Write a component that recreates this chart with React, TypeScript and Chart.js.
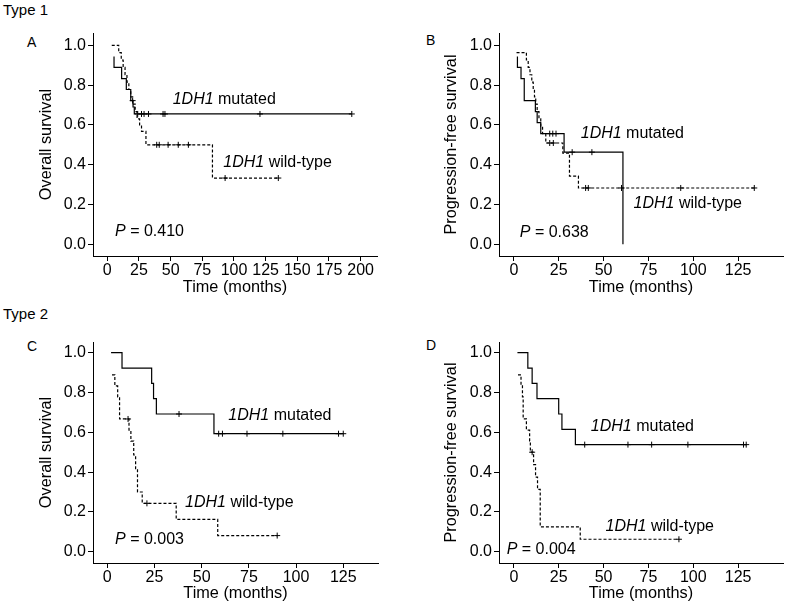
import React, { useEffect, useRef } from "react";
import { Chart, registerables } from "chart.js";

Chart.register(...registerables);

const FONT = '"Liberation Sans", Arial, Helvetica, sans-serif';
const TICK_SIZE = 16;
const TITLE_SIZE = 16.3;
const ANNOT_SIZE = 16;

// ---- shared axis ticks ----
const Y_TICKS = [0, 0.2, 0.4, 0.6, 0.8, 1.0];
const Y_TICK_LABELS = ["0.0", "0.2", "0.4", "0.6", "0.8", "1.0"];
const X_TICKS_A = [0, 25, 50, 75, 100, 125, 150, 175, 200];
const X_TICK_LABELS_A = ["0", "25", "50", "75", "100", "125", "150", "175", "200"];
const X_TICKS_BCD = [0, 25, 50, 75, 100, 125];
const X_TICK_LABELS_BCD = ["0", "25", "50", "75", "100", "125"];

const GENE = "1DH1";
const GROUP_MUT = " mutated";
const GROUP_WT = " wild-type";
const X_TITLE = "Time (months)";
const Y_TITLE_OS = "Overall survival";
const Y_TITLE_PFS = "Progression-free survival";
const P_VALUES = ["0.410", "0.638", "0.003", "0.004"];

// ---- Panel A: Type 1, overall survival ----
const A_MUT_TIMES = [5.3, 5.3, 11.3, 15, 18.5, 20.3, 21.3];
const A_MUT_SURV = [0.944, 0.889, 0.833, 0.778, 0.722, 0.69, 0.655];
const A_MUT_CENSOR = [20, 24, 27, 29, 32.5, 44, 45.5, 120.5, 193];
const A_WT_TIMES = [3.5, 9, 11, 12.5, 14, 15.5, 17, 18.5, 20, 22, 23.5, 25.5, 27, 30.5, 83];
const A_WT_SURV = [1.0, 0.963, 0.926, 0.889, 0.852, 0.815, 0.778, 0.741, 0.704, 0.667, 0.63, 0.6, 0.567, 0.5, 0.333];
const A_WT_CENSOR = [39, 41, 48, 56, 64, 93, 135];

// ---- Panel B: Type 1, progression-free survival ----
const B_MUT_TIMES = [2, 2, 4, 5.8, 12, 13, 15, 28, 60.8];
const B_MUT_SURV = [0.944, 0.889, 0.833, 0.722, 0.667, 0.611, 0.556, 0.463, 0];
const B_MUT_CENSOR = [20, 21.7, 23.5, 32.5, 43.5];
const B_WT_TIMES = [1.5, 7, 8, 9, 10, 10.8, 11.5, 12.2, 13, 14, 15, 16, 17.8, 27.3, 31, 36];
const B_WT_SURV = [0.963, 0.926, 0.889, 0.852, 0.815, 0.778, 0.741, 0.704, 0.667, 0.63, 0.593, 0.556, 0.509, 0.458, 0.343, 0.283];
const B_WT_CENSOR = [20, 22, 40, 41.5, 60, 93, 134];

// ---- Panel C: Type 2, overall survival ----
const C_MUT_TIMES = [2, 7.8, 23.5, 24.5, 26, 56.5];
const C_MUT_SURV = [1.0, 0.923, 0.846, 0.769, 0.692, 0.593];
const C_MUT_CENSOR = [38, 59, 61, 74, 93, 122.5, 125];
const C_WT_TIMES = [2.5, 4, 5.5, 6.5, 11.5, 12.5, 14, 15, 16, 18.5, 36.5, 58.5];
const C_WT_SURV = [0.889, 0.833, 0.778, 0.667, 0.611, 0.556, 0.486, 0.417, 0.3, 0.243, 0.162, 0.081];
const C_WT_CENSOR = [11, 21, 90];

// ---- Panel D: Type 2, progression-free survival ----
const D_MUT_TIMES = [2, 7.8, 10.2, 12.9, 25, 26.8, 34.3];
const D_MUT_SURV = [1.0, 0.923, 0.846, 0.769, 0.692, 0.615, 0.538];
const D_MUT_CENSOR = [39.5, 63.6, 76.8, 97, 128, 129.5];
const D_WT_TIMES = [2.3, 4, 4.8, 5.2, 7, 8.8, 9.2, 11, 12.1, 13.2, 14.7, 37];
const D_WT_SURV = [0.889, 0.833, 0.778, 0.667, 0.611, 0.556, 0.5, 0.438, 0.375, 0.313, 0.125, 0.0625];
const D_WT_CENSOR = [10.2, 92];

type Pt = { x: number; y: number; c: boolean };

function kmPoints(times: number[], surv: number[], censor: number[]): Pt[] {
  const pts: Pt[] = times.map((t, i) => ({ x: t, y: surv[i], c: false }));
  censor.forEach((t) => {
    let s = surv[0];
    for (let i = 0; i < times.length; i++) if (times[i] <= t) s = surv[i];
    pts.push({ x: t, y: s, c: true });
  });
  pts.sort((a, b) => a.x - b.x);
  return pts;
}

type Label = { x: number; y: number; parts: { t: string; i: boolean }[] };

type PanelCfg = {
  rect: [number, number, number, number];
  area: [number, number, number, number];
  xMin: number;
  xMax: number;
  yMin: number;
  yMax: number;
  xTicks: number[];
  xTickLabels: string[];
  yTitle: string;
  yTitleX: number;
  xTitleY: number;
  mut: Pt[];
  wt: Pt[];
  labels: Label[];
};

const mkLabels = (m: [number, number], w: [number, number], p: [number, number], pv: string): Label[] => [
  { x: m[0], y: m[1], parts: [{ t: GENE, i: true }, { t: GROUP_MUT, i: false }] },
  { x: w[0], y: w[1], parts: [{ t: GENE, i: true }, { t: GROUP_WT, i: false }] },
  { x: p[0], y: p[1], parts: [{ t: "P", i: true }, { t: " = " + pv, i: false }] },
];

const PANELS: PanelCfg[] = [
  {
    rect: [0, 20, 393, 285],
    area: [93, 33, 377, 256],
    xMin: -11.3, xMax: 212.9, yMin: -0.0588, yMax: 1.0618,
    xTicks: X_TICKS_A, xTickLabels: X_TICK_LABELS_A,
    yTitle: Y_TITLE_OS, yTitleX: 46.7, xTitleY: 288,
    mut: kmPoints(A_MUT_TIMES, A_MUT_SURV, A_MUT_CENSOR),
    wt: kmPoints(A_WT_TIMES, A_WT_SURV, A_WT_CENSOR),
    labels: mkLabels([51.6, 0.729], [91.6, 0.41], [6.1, 0.063], P_VALUES[0]),
  },
  {
    rect: [393, 20, 394, 285],
    area: [499, 33, 786, 256],
    xMin: -8.27, xMax: 150, yMin: -0.0588, yMax: 1.0618,
    xTicks: X_TICKS_BCD, xTickLabels: X_TICK_LABELS_BCD,
    yTitle: Y_TITLE_PFS, yTitleX: 451.7, xTitleY: 288,
    mut: kmPoints(B_MUT_TIMES, B_MUT_SURV, B_MUT_CENSOR),
    wt: kmPoints(B_WT_TIMES, B_WT_SURV, B_WT_CENSOR),
    labels: mkLabels([37.3, 0.558], [66.7, 0.2025], [3.3, 0.058], P_VALUES[1]),
  },
  {
    rect: [0, 325, 393, 283],
    area: [93, 342, 378, 563],
    xMin: -7.57, xMax: 143.4, yMin: -0.0568, yMax: 1.0538,
    xTicks: X_TICKS_BCD, xTickLabels: X_TICK_LABELS_BCD,
    yTitle: Y_TITLE_OS, yTitleX: 46.7, xTitleY: 594,
    mut: kmPoints(C_MUT_TIMES, C_MUT_SURV, C_MUT_CENSOR),
    wt: kmPoints(C_WT_TIMES, C_WT_SURV, C_WT_CENSOR),
    labels: mkLabels([64.1, 0.682], [41.2, 0.246], [4.1, 0.059], P_VALUES[2]),
  },
  {
    rect: [393, 325, 394, 283],
    area: [499, 342, 786, 563],
    xMin: -8.27, xMax: 150, yMin: -0.0568, yMax: 1.0538,
    xTicks: X_TICKS_BCD, xTickLabels: X_TICK_LABELS_BCD,
    yTitle: Y_TITLE_PFS, yTitleX: 451.7, xTitleY: 594,
    mut: kmPoints(D_MUT_TIMES, D_MUT_SURV, D_MUT_CENSOR),
    wt: kmPoints(D_WT_TIMES, D_WT_SURV, D_WT_CENSOR),
    labels: mkLabels([42.9, 0.628], [51.1, 0.126], [-4.0, 0.012], P_VALUES[3]),
  },
];

function KMPanel({ cfg }: { cfg: PanelCfg }) {
  const ref = useRef<HTMLCanvasElement>(null);
  const [cx, cy, cw, ch] = cfg.rect;
  useEffect(() => {
    const canvas = ref.current;
    if (!canvas) return;
    const [L, T, R, B] = cfg.area;
    const half = (TITLE_SIZE * 1.2) / 2;
    const yScaleLeft = cfg.yTitleX - half;
    const xScaleBottom = cfg.xTitleY + half;
    const yWidth = L - yScaleLeft;
    const xHeight = xScaleBottom - B;

    const textPlugin = {
      id: "kmText",
      afterDraw(chart: any) {
        const ctx = chart.ctx;
        const xs = chart.scales.x;
        const ys = chart.scales.y;
        ctx.save();
        ctx.fillStyle = "#000";
        ctx.textBaseline = "middle";
        ctx.textAlign = "left";
        cfg.labels.forEach((lb) => {
          let px = xs.getPixelForValue(lb.x);
          const py = ys.getPixelForValue(lb.y);
          lb.parts.forEach((p) => {
            ctx.font = `${p.i ? "italic " : ""}${ANNOT_SIZE}px ${FONT}`;
            ctx.fillText(p.t, px, py);
            px += ctx.measureText(p.t).width;
          });
        });
        ctx.restore();
      },
    };

    const common = {
      type: "line",
      borderColor: "#000",
      borderWidth: 1.2,
      stepped: "before",
      fill: false,
      pointStyle: "cross",
      pointRadius: (c: any) => (c.raw && c.raw.c ? 3 : 0),
      pointHoverRadius: 0,
      pointBorderColor: "#000",
      pointBackgroundColor: "#000",
      pointBorderWidth: 1,
    };

    const chart = new Chart(canvas, {
      type: "line",
      data: {
        datasets: [
          { ...common, data: cfg.mut } as any,
          { ...common, data: cfg.wt, borderDash: [3, 2] } as any,
        ],
      },
      options: {
        responsive: false,
        animation: false,
        events: [],
        layout: {
          padding: {
            left: yScaleLeft - cx,
            top: T - cy,
            right: cx + cw - R,
            bottom: cy + ch - xScaleBottom,
          },
        },
        plugins: { legend: { display: false }, tooltip: { enabled: false } },
        scales: {
          x: {
            type: "linear",
            min: cfg.xMin,
            max: cfg.xMax,
            afterBuildTicks: (s: any) => {
              s.ticks = cfg.xTicks.map((v) => ({ value: v }));
            },
            afterFit: (s: any) => {
              s.height = xHeight;
              s.paddingLeft = 0;
              s.paddingRight = 0;
            },
            grid: {
              display: true,
              drawOnChartArea: false,
              drawTicks: true,
              tickLength: 5,
              tickColor: "#000",
              lineWidth: 1,
            },
            border: { display: true, color: "#000", width: 1 },
            ticks: {
              color: "#000",
              font: { family: FONT, size: TICK_SIZE },
              padding: 0,
              maxRotation: 0,
              autoSkip: false,
              callback: (_v: any, i: number) => cfg.xTickLabels[i],
            },
            title: {
              display: true,
              text: X_TITLE,
              color: "#000",
              font: { family: FONT, size: TITLE_SIZE },
              padding: 0,
            },
          },
          y: {
            type: "linear",
            min: cfg.yMin,
            max: cfg.yMax,
            afterBuildTicks: (s: any) => {
              s.ticks = Y_TICKS.map((v) => ({ value: v }));
            },
            afterFit: (s: any) => {
              s.width = yWidth;
              s.paddingTop = 0;
              s.paddingBottom = 0;
            },
            grid: {
              display: true,
              drawOnChartArea: false,
              drawTicks: true,
              tickLength: 5,
              tickColor: "#000",
              lineWidth: 1,
            },
            border: { display: true, color: "#000", width: 1 },
            ticks: {
              color: "#000",
              font: { family: FONT, size: TICK_SIZE },
              padding: 2,
              autoSkip: false,
              callback: (_v: any, i: number) => Y_TICK_LABELS[i],
            },
            title: {
              display: true,
              text: cfg.yTitle,
              color: "#000",
              font: { family: FONT, size: TITLE_SIZE },
              padding: 0,
            },
          },
        },
      } as any,
      plugins: [textPlugin],
    });
    return () => chart.destroy();
  }, [cfg]);
  return (
    <canvas
      ref={ref}
      width={cw}
      height={ch}
      style={{ position: "absolute", left: cx, top: cy, width: cw, height: ch }}
    />
  );
}

const TEXT_ITEMS = [
  { t: "Type 1", x: 3, y: 1.5, size: 15 },
  { t: "Type 2", x: 3, y: 306, size: 15 },
  { t: "A", x: 27, y: 35, size: 14 },
  { t: "B", x: 426, y: 33, size: 14 },
  { t: "C", x: 27, y: 339, size: 14 },
  { t: "D", x: 426, y: 338, size: 14 },
];

export default function App() {
  return (
    <div
      style={{
        position: "absolute",
        left: 0,
        top: 0,
        width: 787,
        height: 608,
        background: "#fff",
        overflow: "hidden",
        fontFamily: FONT,
        color: "#000",
      }}
    >
      {TEXT_ITEMS.map((it) => (
        <div
          key={it.t}
          style={{
            position: "absolute",
            left: it.x,
            top: it.y,
            fontSize: it.size,
            lineHeight: 1,
            whiteSpace: "nowrap",
          }}
        >
          {it.t}
        </div>
      ))}
      {PANELS.map((p, i) => (
        <KMPanel key={i} cfg={p} />
      ))}
    </div>
  );
}
